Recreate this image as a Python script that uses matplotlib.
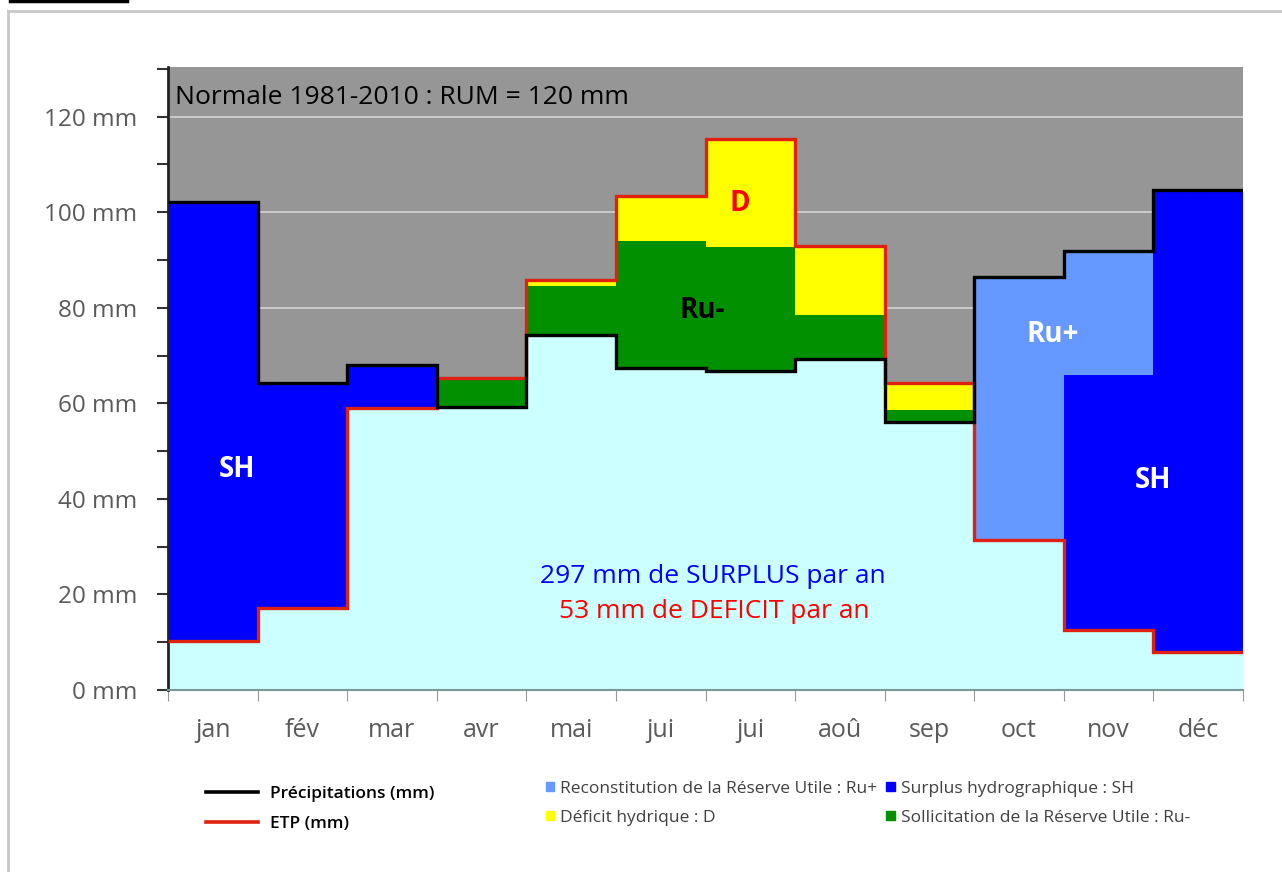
import numpy as np
import matplotlib.pyplot as plt
from matplotlib.lines import Line2D
from matplotlib.patches import Patch

plt.rcParams['font.family'] = ['Open Sans', 'DejaVu Sans']

months = ["jan", "fév", "mar", "avr", "mai", "jui", "jui", "aoû", "sep", "oct", "nov", "déc"]
precip = [102.2, 64.3, 68.1, 59.3, 74.3, 67.4, 66.7, 69.3, 56.0, 86.5, 91.8, 104.7]
etp = [10.3, 17.2, 59.1, 65.3, 85.9, 103.3, 115.4, 93.0, 64.3, 31.4, 12.6, 8.0]
surplus = [91.9, 47.1, 9.0, 0, 0, 0, 0, 0, 0, 0, 53.4, 96.7]
ru_plus = [0, 0, 0, 0, 0, 0, 0, 0, 0, 55.1, 25.8, 0]
ru_minus = [0, 0, 0, 6.0, 10.2, 26.5, 26.0, 9.2, 2.6, 0, 0, 0]
deficit = [0, 0, 0, 0, 1.4, 9.4, 22.7, 14.5, 5.7, 0, 0, 0]

c_bg = "#969696"
c_base = "#CCFFFF"
c_sh = "#0000FF"
c_rup = "#6699FF"
c_rum = "#009000"
c_d = "#FFFF00"
c_etp = "#E02010"

fig = plt.figure(figsize=(12.82, 8.72), dpi=100)
ax = fig.add_axes([168 / 1282, 1 - 690 / 872, (1243 - 168) / 1282, (690 - 67) / 872])
ax.set_facecolor(c_bg)

x = np.arange(len(months))
base = np.minimum(precip, etp)
bottom = base.copy()
ax.bar(x, base, width=1.0, color=c_base, zorder=2)
for vals, col in [(surplus, c_sh), (ru_plus, c_rup), (ru_minus, c_rum), (deficit, c_d)]:
    ax.bar(x, vals, bottom=bottom, width=1.0, color=col, zorder=2)
    bottom = bottom + np.array(vals)

edges = np.arange(len(months) + 1) - 0.5
ax.stairs(etp, edges, baseline=None, color=c_etp, lw=2.4, zorder=3)
ax.stairs(precip, edges, baseline=None, color="black", lw=2.4, zorder=4)

ax.set_xlim(-0.5, 11.5)
ax.set_ylim(0, 130.4)
ax.set_yticks(np.arange(0, 121, 20))
ax.set_yticklabels([f"{v} mm" for v in range(0, 121, 20)])
ax.set_yticks(np.arange(0, 131, 10), minor=True)
ax.grid(axis="y", which="major", color="#CFCFCF", lw=1.3, zorder=1)
ax.set_axisbelow(True)
ax.tick_params(axis="y", which="both", direction="out", length=8, width=1.5,
               color="#333333", labelcolor="#5A5A5A", labelsize=17.5, pad=14)

ax.set_xticks(edges)
ax.set_xticklabels([])
ax.set_xticks(x, minor=True)
ax.set_xticklabels(months, minor=True)
ax.tick_params(axis="x", which="major", direction="out", length=8, color="#999999")
ax.tick_params(axis="x", which="minor", length=0, labelcolor="#5A5A5A", labelsize=18, pad=20)

for s in ["top", "right"]:
    ax.spines[s].set_visible(False)
ax.spines["left"].set_color("#222222")
ax.spines["left"].set_linewidth(2)
ax.spines["bottom"].set_color("#7A9A9A")
ax.spines["bottom"].set_linewidth(1.5)

ax.text(-0.42, 124.0, "Normale 1981-2010 : RUM = 120 mm", fontsize=19, color="black",
        va="center", ha="left", zorder=5)
ax.text(0.27, 46.1, "SH", fontsize=20, color="white", fontweight="bold", ha="center", va="center", zorder=5)
ax.text(10.49, 43.8, "SH", fontsize=20, color="white", fontweight="bold", ha="center", va="center", zorder=5)
ax.text(9.38, 74.4, "Ru+", fontsize=20, color="white", fontweight="bold", ha="center", va="center", zorder=5)
ax.text(5.46, 79.4, "Ru-", fontsize=20, color="black", fontweight="bold", ha="center", va="center", zorder=5)
ax.text(5.88, 101.8, "D", fontsize=20, color="red", fontweight="bold", ha="center", va="center", zorder=5)
ax.text(5.58, 23.8, "297 mm de SURPLUS par an", fontsize=19, color="#0000FF", ha="center", va="center", zorder=5)
ax.text(5.6, 16.5, "53 mm de DEFICIT par an", fontsize=19, color="#FF0000", ha="center", va="center", zorder=5)

# legends below the chart
h1 = [Line2D([], [], color="black", lw=2.6), Line2D([], [], color=c_etp, lw=2.6)]
leg1 = fig.legend(h1, ["Précipitations (mm)", "ETP (mm)"], loc="upper left",
                  bbox_to_anchor=(190 / 1282, 1 - 770 / 872), frameon=False, fontsize=12.5,
                  handlelength=3.0, labelspacing=0.8, handletextpad=0.7)
for t in leg1.get_texts():
    t.set_fontweight("semibold")

h2 = [Patch(color=c_rup), Patch(color=c_d), Patch(color=c_sh), Patch(color=c_rum)]
l2 = ["Reconstitution de la Réserve Utile : Ru+", "Déficit hydrique : D",
      "Surplus hydrographique : SH", "Sollicitation de la Réserve Utile : Ru-"]
leg2 = fig.legend(h2, l2, ncol=2, loc="upper left", bbox_to_anchor=(530 / 1282, 1 - 765 / 872),
                  frameon=False, fontsize=12.5, handlelength=0.5, handleheight=0.5,
                  handletextpad=0.35, labelspacing=0.75, columnspacing=0.5)
for t in leg2.get_texts():
    t.set_color("#404040")

# page frame and cut-off caption underline
fig.add_artist(Line2D([8 / 1282, 1.0], [1 - 11 / 872, 1 - 11 / 872], color="#C8C8C8", lw=2))
fig.add_artist(Line2D([8 / 1282, 8 / 1282], [0, 1 - 11 / 872], color="#C8C8C8", lw=2))
fig.add_artist(Line2D([10 / 1282, 127 / 1282], [1 - 1.5 / 872, 1 - 1.5 / 872], color="black", lw=2.5))

fig.savefig("out.png", dpi=100)
